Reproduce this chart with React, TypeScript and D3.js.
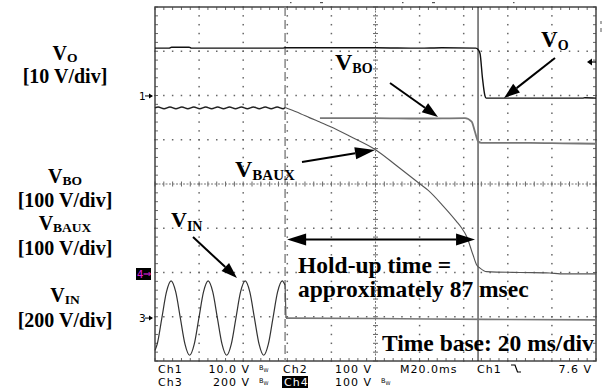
import React from "react";
import * as d3 from "d3";

// scope screen: time in ms (20 ms/div, 10 div), vertical in divisions (-4..4)
const timeDomain = [0, 200];
const divDomain = [-4, 4];

const voTrace: [number, number][] = [
  [0, 3.07], [6.5, 3.07], [7.5, 3.09], [15.5, 3.09], [16.5, 3.07], [58, 3.07],
  [59, 3.08], [100, 3.08], [120, 3.07], [130, 3.08], [145.5, 3.07], [146.5, 3.04],
  [147.4, 2.95], [148.5, 2.4], [149.6, 2.0], [150.2, 1.94], [170, 1.94], [185, 1.94],
  [194, 1.94], [195, 1.95], [200, 1.94],
];

const vbauxTrace: [number, number][] = [
  [0, 1.72], [1.4, 1.74], [4.1, 1.7], [6.8, 1.74], [9.5, 1.7], [12.2, 1.74],
  [14.9, 1.7], [17.6, 1.74], [20.3, 1.7], [23.0, 1.74], [25.7, 1.7], [28.4, 1.74],
  [31.1, 1.7], [33.8, 1.74], [36.5, 1.7], [39.2, 1.74], [41.9, 1.7], [44.6, 1.74],
  [47.3, 1.7], [50.0, 1.74], [52.7, 1.7], [55.4, 1.74], [58.1, 1.7], [59, 1.73],
  [62, 1.67], [66, 1.59], [70, 1.5], [74.8, 1.4], [79.4, 1.3], [88.4, 1.08],
  [100.2, 0.77], [109.9, 0.4], [120.2, 0.0], [123.8, -0.14], [130.2, -0.47],
  [136.8, -0.85], [139, -0.99], [141.4, -1.19], [144.2, -1.6], [145.9, -1.83],
  [147.4, -1.9], [150.4, -1.98], [165.5, -2.0], [179, -2.01], [183.7, -2.03], [200, -2.03],
];

const vboTrace: [number, number][] = [
  [74.8, 1.49], [100, 1.49], [120, 1.48], [140.6, 1.49], [143.6, 1.41], [145.1, 1.18],
  [146.6, 0.96], [148, 0.93], [170, 0.93], [185, 0.92], [200, 0.91],
];

const vinTrace: [number, number][] = [
  [0, -3.76], [1.0, -3.62], [3.1, -3.03], [5.2, -2.44], [7.3, -2.19], [9.4, -2.44],
  [11.5, -3.03], [13.6, -3.62], [15.7, -3.87], [17.8, -3.62], [19.9, -3.03], [22.0, -2.44],
  [24.1, -2.19], [26.2, -2.44], [28.3, -3.03], [30.4, -3.62], [32.5, -3.87], [34.6, -3.62],
  [36.7, -3.03], [38.8, -2.44], [40.9, -2.19], [43.0, -2.44], [45.1, -3.03], [47.2, -3.62],
  [49.3, -3.87], [51.4, -3.62], [53.5, -3.03], [55.6, -2.44], [57.7, -2.19], [59.0, -2.29],
  [59.4, -3.03], [100, -3.04], [150, -3.06], [200, -3.07],
];

const cursorsMs = [59, 146.5];
const channelRefs = [
  { label: "1", div: 1.99 },
  { label: "3", div: -3.03 },
];

const leftLabels = [
  { main: "V", sub: "O" },
  { main: "V", sub: "BO" },
  { main: "V", sub: "BAUX" },
  { main: "V", sub: "IN" },
];
const leftScales = ["[10 V/div]", "[100 V/div]", "[100 V/div]", "[200 V/div]"];

const statusRow1 = ["Ch1", "10.0 V", "Ch2", "100 V", "M20.0ms", "Ch1", "7.6 V"];
const statusRow2 = ["Ch3", "200 V", "Ch4", "100 V"];

const serif = "'Liberation Serif', 'Times New Roman', serif";
const mono = "'DejaVu Sans', sans-serif";

const Arrow = ({ x1, y1, x2, y2, len = 16, wid = 11, sw = 2 }: any) => {
  const a = Math.atan2(y2 - y1, x2 - x1);
  const bx = x2 - len * Math.cos(a);
  const by = y2 - len * Math.sin(a);
  const px = (wid / 2) * Math.sin(a);
  const py = (wid / 2) * Math.cos(a);
  return (
    <g>
      <line x1={x1} y1={y1} x2={bx} y2={by} stroke="#000" strokeWidth={sw} />
      <polygon points={`${x2},${y2} ${bx + px},${by - py} ${bx - px},${by + py}`} fill="#000" />
    </g>
  );
};

const App = () => {
  const x = d3.scaleLinear().domain(timeDomain).range([155, 596]);
  const y = d3.scaleLinear().domain(divDomain).range([361, 7]);
  const line = d3
    .line<[number, number]>()
    .x((d) => x(d[0]))
    .y((d) => y(d[1]))
    .curve(d3.curveMonotoneX);

  const majorT = d3.range(timeDomain[0], timeDomain[1] + 0.1, 20);
  const majorV = d3.range(divDomain[0], divDomain[1] + 0.1, 1);
  const minorT = d3.range(timeDomain[0], timeDomain[1] + 0.1, 4);
  const minorV = d3.range(divDomain[0], divDomain[1] + 0.01, 0.2);

  const dots: JSX.Element[] = [];
  majorT.slice(1, -1).forEach((t) => {
    if (t === 100) return;
    minorV.forEach((v, i) =>
      dots.push(<rect key={`vx${t}-${i}`} x={x(t) - 0.75} y={y(v) - 0.75} width={1.5} height={1.5} fill="#666" />)
    );
  });
  majorV.slice(1, -1).forEach((v) => {
    if (v === 0) return;
    minorT.forEach((t, i) =>
      dots.push(<rect key={`hy${v}-${i}`} x={x(t) - 0.75} y={y(v) - 0.75} width={1.5} height={1.5} fill="#666" />)
    );
  });

  const ripple = vbauxTrace.filter((d) => d[0] <= 59);
  const decay = vbauxTrace.filter((d) => d[0] >= 59);
  const vinSine = vinTrace.filter((d) => d[0] <= 59);
  const vinFlat = vinTrace.filter((d) => d[0] >= 59.4);

  const labelY = [[60, 83], [183, 207], [230, 255], [302, 327]];
  const row1 = 372.5;
  const row2 = 385.5;

  return (
    <svg width={605} height={390} style={{ position: "fixed", left: 0, top: 0, background: "#fff" }}>
      <rect width={605} height={390} fill="#fff" />
      {/* graticule */}
      <g>
        {dots}
        {minorT.map((t, i) => (
          <g key={`ct${i}`} stroke="#666" strokeWidth={1}>
            <line x1={x(t)} x2={x(t)} y1={y(0) - 2.5} y2={y(0) + 2.5} />
            <line x1={x(t)} x2={x(t)} y1={y(4)} y2={y(4) + 3} />
            <line x1={x(t)} x2={x(t)} y1={y(-4)} y2={y(-4) - 3} />
          </g>
        ))}
        {minorV.map((v, i) => (
          <g key={`cv${i}`} stroke="#666" strokeWidth={1}>
            <line x1={x(100) - 2.5} x2={x(100) + 2.5} y1={y(v)} y2={y(v)} />
            <line x1={x(0)} x2={x(0) + 3} y1={y(v)} y2={y(v)} />
            <line x1={x(200)} x2={x(200) - 3} y1={y(v)} y2={y(v)} />
          </g>
        ))}
        <line x1={x(0)} x2={x(200)} y1={y(0)} y2={y(0)} stroke="#777" strokeWidth={1} strokeDasharray="2,1.5" />
        <line x1={x(100)} x2={x(100)} y1={y(4)} y2={y(-4)} stroke="#777" strokeWidth={1} strokeDasharray="2,1.5" />
        <rect x={x(0)} y={y(4)} width={x(200) - x(0)} height={y(-4) - y(4)} fill="none" stroke="#444" strokeWidth={1.5} />
      </g>

      {/* cursors */}
      <line x1={x(cursorsMs[0])} x2={x(cursorsMs[0])} y1={y(4)} y2={y(-4)} stroke="#888" strokeWidth={1.5} strokeDasharray="9,4" />
      <line x1={x(cursorsMs[1])} x2={x(cursorsMs[1])} y1={y(4)} y2={y(-4)} stroke="#111" strokeWidth={1} />

      {/* traces */}
      <path d={line(vinFlat) || ""} fill="none" stroke="#777" strokeWidth={1.6} />
      <path d={line(vinSine) || ""} fill="none" stroke="#333" strokeWidth={1.2} />
      <line x1={x(59)} x2={x(59.4)} y1={y(-2.29)} y2={y(-3.03)} stroke="#555" strokeWidth={1.2} />
      <path d={line(vboTrace) || ""} fill="none" stroke="#777" strokeWidth={1.8} />
      <path d={line(decay) || ""} fill="none" stroke="#555" strokeWidth={1.1} />
      <path d={line(ripple) || ""} fill="none" stroke="#222" strokeWidth={1.5} />
      <path d={line(voTrace) || ""} fill="none" stroke="#111" strokeWidth={1.4} />

      {/* channel reference markers */}
      {channelRefs.map((c) => (
        <g key={c.label}>
          <text x={139} y={y(c.div) + 4} fontFamily={mono} fontSize={10.5} fill="#000">{c.label}</text>
          <line x1={145} x2={152} y1={y(c.div)} y2={y(c.div)} stroke="#000" strokeWidth={1} />
          <polygon points={`${153},${y(c.div)} ${149},${y(c.div) - 2.5} ${149},${y(c.div) + 2.5}`} fill="#000" />
        </g>
      ))}
      <rect x={136} y={268} width={15} height={12} fill="#000" />
      <text x={137} y={278} fontFamily={mono} fontSize={10} fill="#e020e0">4</text>
      <text x={143} y={277} fontFamily={mono} fontSize={10} fill="#e020e0">⇒</text>
      {/* trigger level marker */}
      <line x1={590} x2={596} y1={62} y2={62} stroke="#000" strokeWidth={1.2} />
      <polygon points="587,62 592,58.5 592,65.5" fill="#000" />
      <line x1={601} x2={601} y1={21} y2={24} stroke="#555" strokeWidth={1} />
      <line x1={601} x2={601} y1={28} y2={32} stroke="#555" strokeWidth={1} />
      {[290, 320, 402, 432, 513].map((px, i) => (
        <rect key={`tm${i}`} x={px} y={2} width={i % 2 ? 3 : 1.5} height={1.2} fill="#555" />
      ))}

      {/* left labels */}
      {leftLabels.map((l, i) => (
        <g key={`ll${i}`} fontFamily={serif} fontWeight="bold" fill="#000">
          <text x={65} y={labelY[i][0]} textAnchor="middle">
            <tspan fontSize={20}>{l.main}</tspan>
            <tspan fontSize={13.5} dy={2}>{l.sub}</tspan>
          </text>
          <text x={65} y={labelY[i][1]} textAnchor="middle" fontSize={20}>{leftScales[i]}</text>
        </g>
      ))}

      {/* annotations */}
      <g fontFamily={serif} fontWeight="bold" fill="#000">
        <text x={335} y={70}>
          <tspan fontSize={24}>V</tspan>
          <tspan fontSize={14} dy={3}>BO</tspan>
        </text>
        <text x={541} y={47}>
          <tspan fontSize={23}>V</tspan>
          <tspan fontSize={14} dy={3}>O</tspan>
        </text>
        <text x={235} y={177}>
          <tspan fontSize={24}>V</tspan>
          <tspan fontSize={15} dy={3}>BAUX</tspan>
        </text>
        <text x={171} y={227}>
          <tspan fontSize={22}>V</tspan>
          <tspan fontSize={14} dy={4}>IN</tspan>
        </text>
        <text x={298} y={273} fontSize={23.5}>Hold-up time =</text>
        <text x={298} y={297} fontSize={23.5}>approximately 87 msec</text>
        <text x={382} y={351} fontSize={23.5}>Time base: 20 ms/div</text>
      </g>
      <Arrow x1={390} y1={83} x2={438} y2={117} />
      <Arrow x1={555} y1={58} x2={504} y2={98} />
      <Arrow x1={302} y1={162} x2={375} y2={150} len={20} wid={12} />
      <Arrow x1={193} y1={237} x2={237} y2={278} />
      <Arrow x1={x(cursorsMs[0]) + 20} y1={239.5} x2={x(cursorsMs[0]) + 2} y2={239.5} len={19} wid={12} />
      <Arrow x1={x(cursorsMs[0]) + 20} y1={239.5} x2={x(cursorsMs[1]) - 3} y2={239.5} len={19} wid={12} />

      {/* status bar */}
      <g fontFamily={mono} fontSize={11} fill="#000" letterSpacing={1}>
        <text x={158} y={row1}>{statusRow1[0]}</text>
        <text x={250} y={row1} textAnchor="end">{statusRow1[1]}</text>
        <text x={283} y={row1}>{statusRow1[2]}</text>
        <text x={372} y={row1} textAnchor="end">{statusRow1[3]}</text>
        <text x={400} y={row1}>{statusRow1[4]}</text>
        <text x={477} y={row1}>{statusRow1[5]}</text>
        <text x={592} y={row1} textAnchor="end">{statusRow1[6]}</text>
        <text x={158} y={row2}>{statusRow2[0]}</text>
        <text x={250} y={row2} textAnchor="end">{statusRow2[1]}</text>
        <rect x={282} y={376} width={26} height={12} fill="#000" />
        <text x={284} y={row2} fill="#fff">{statusRow2[2]}</text>
        <text x={372} y={row2} textAnchor="end">{statusRow2[3]}</text>
      </g>
      <path d="M511,365 H515 L517.5,372 H521" fill="none" stroke="#000" strokeWidth={1.2} />
      {[[259, 370], [259, 383], [381, 383]].map(([bx, by], i) => (
        <text key={`bw${i}`} x={bx} y={by} fontFamily={mono} fontSize={6.5} fill="#000">
          B<tspan fontSize={5} dy={1.5}>W</tspan>
        </text>
      ))}
    </svg>
  );
};

export default App;
